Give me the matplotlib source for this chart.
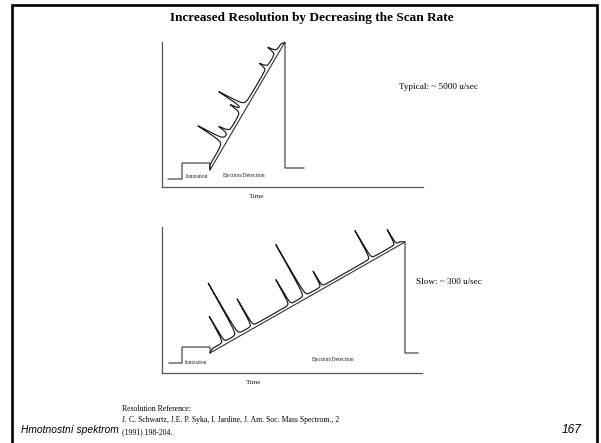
import numpy as np
import matplotlib
matplotlib.use("Agg")
import matplotlib.pyplot as plt

# ---- content -------------------------------------------------------------
title = "Increased Resolution by Decreasing the Scan Rate"
rate_labels = ["Typical: ~ 5000 u/sec", "Slow: ~ 300 u/sec"]
phase_labels = ["Ionization", "Ejection/Detection"]
xlabel = "Time"
footer_left = "Hmotnostní spektrom"
footer_ref = ["Resolution Reference:",
              "J. C. Schwartz, J.E. P. Syka, I. Jardine, J. Am. Soc. Mass Spectrom., 2",
              "(1991) 198-204."]
page_no = "167"

# fast scan: peak positions along the ramp and peak heights (broad peaks)
fast_peak_pos = [32, 42, 66.6, 72, 117, 135]
fast_peak_height = [30, 11.5, 12, 29, 8.5, 9.5]
# slow scan: peak positions along the ramp and peak heights (sharp peaks)
slow_peak_pos = [17.4, 33, 50.3, 93.5, 110.8, 130, 186.5, 215]
slow_peak_height = [29.5, 59, 31, 28.5, 59, 17.5, 32, 17]

# RF amplitude program for each panel (time, amplitude) in panel units
fast_ramp = dict(base=(6, 20, 8), ion=(20, 48, 24), start=(48, 17), end=(123, 145),
                 after=(142, 19), width=0.9)
slow_ramp = dict(base=(7, 20, 10), ion=(20, 48, 26), start=(48, 20), end=(243, 131),
                 after=(256, 20), width=0.35)

W_PX, H_PX = 601, 443
fig = plt.figure(figsize=(W_PX / 100, H_PX / 100), dpi=100)
fig.patch.set_facecolor("white")

page = fig.add_axes([0, 0, 1, 1])
page.set_xlim(0, W_PX)
page.set_ylim(H_PX, 0)
page.axis("off")

# slide frame
page.plot([12, 12, 597, 597], [H_PX + 2, 5, 5, H_PX + 2], color="black", lw=1.9,
          solid_joinstyle="miter")

serif = "Liberation Serif"
sans = "Liberation Sans"

page.text(312, 18, title, ha="center", va="center", fontsize=9.5,
          fontweight="bold", family=serif)


def panel(rect, ramp, peak_pos, peak_height, lab_ion, lab_ej, lab_time):
    left, top, w, h = rect
    ax = fig.add_axes([left / W_PX, 1 - (top + h) / H_PX, w / W_PX, h / H_PX])
    ax.set_xlim(0, w)
    ax.set_ylim(0, h)
    for s in ("top", "right"):
        ax.spines[s].set_visible(False)
    for s in ("left", "bottom"):
        ax.spines[s].set_color("#555555")
        ax.spines[s].set_linewidth(0.9)
    ax.set_xticks([])
    ax.set_yticks([])
    ax.patch.set_alpha(0)

    bx0, bx1, by = ramp["base"]
    ix0, ix1, iy = ramp["ion"]
    p0 = np.array(ramp["start"], float)
    p1 = np.array(ramp["end"], float)
    ax_, ay_ = ramp["after"]
    col = "#333333"
    # RF program: baseline, ionization step, ramp, drop
    xs = [bx0, bx1, ix0, ix1, p0[0], p1[0], p1[0], ax_]
    ys = [by, by, iy, iy, p0[1], p1[1], ay_, ay_]
    ax.plot(xs, ys, color=col, lw=0.8, solid_joinstyle="miter")

    # signal trace drawn along the ramp, peaks perpendicular to it
    d = p1 - p0
    L = np.hypot(*d)
    u = d / L
    n = np.array([-u[1], u[0]])
    t = np.linspace(0.0, L, 8000)
    t = np.unique(np.concatenate([t, peak_pos]))
    off = 2.6 * np.clip(t / 4.0, 0, 1) * np.clip((L - t) / 4.0, 0, 1)
    s = off.copy()
    wd = ramp["width"]
    for c, hh in zip(peak_pos, peak_height):
        s += hh * wd ** 2 / (wd ** 2 + (t - c) ** 2)
    pts = p0[None, :] + t[:, None] * u[None, :] + s[:, None] * n[None, :]
    ax.plot(pts[:, 0], pts[:, 1], color="#1a1a1a", lw=0.85)

    ax.text(*lab_ion, phase_labels[0], fontsize=4, family=serif,
            ha="left", va="center", color="#222222")
    ax.text(*lab_ej, phase_labels[1], fontsize=4.1, family=serif,
            ha="left", va="center", color="#222222")
    ax.text(*lab_time, xlabel, fontsize=5.4, family=serif,
            ha="center", va="center", color="#222222")
    return ax


panel((162, 42, 261, 145), fast_ramp, fast_peak_pos, fast_peak_height,
      (24, 11), (61, 11), (95, -10))
panel((162, 227, 260, 146), slow_ramp, slow_peak_pos, slow_peak_height,
      (23, 11), (150, 13), (92, -10))

page.text(399, 87, rate_labels[0], fontsize=6.6, family=serif, ha="left", va="center")
page.text(416, 282, rate_labels[1], fontsize=6.6, family=serif, ha="left", va="center")

page.text(21, 433, footer_left, fontsize=7.4, family=sans, style="italic",
          ha="left", va="baseline")
for i, line in enumerate(footer_ref):
    page.text(122, 411 + 11.5 * i, line, fontsize=5.6, family=serif,
              ha="left", va="baseline")
page.text(582, 433, page_no, fontsize=8.6, family=sans, style="italic",
          ha="right", va="baseline")

fig.savefig("out.png", dpi=100, facecolor="white")
